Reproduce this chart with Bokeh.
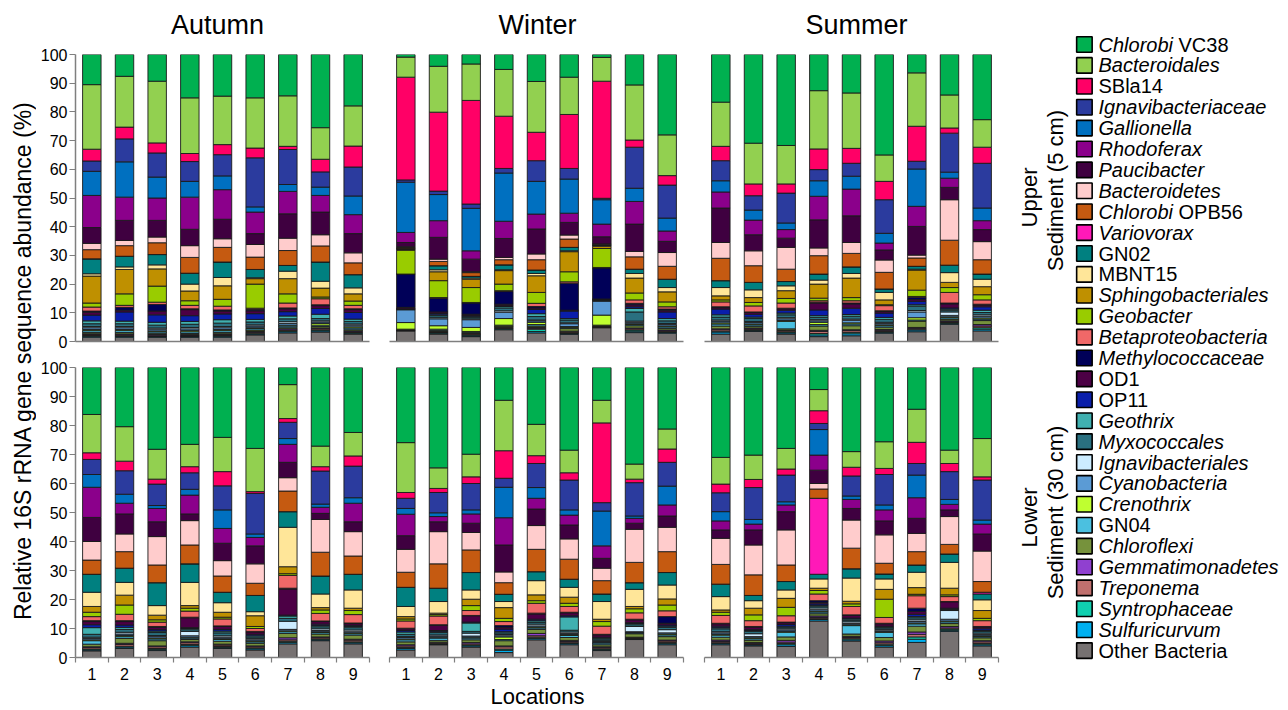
import math
from bokeh.plotting import figure
from bokeh.layouts import row, column
from bokeh.models import ColumnDataSource, Range1d, FixedTicker, Label
from bokeh.core.properties import value
from bokeh.embed import file_html
from bokeh.resources import INLINE

FONT = "Liberation Sans"

LOCATIONS = [1, 2, 3, 4, 5, 6, 7, 8, 9]

# taxa, listed top of stack -> bottom of stack (same order as the legend)
TAXA = ["Chlorobi VC38", "Bacteroidales", "SBla14", "Ignavibacteriaceae", "Gallionella",
        "Rhodoferax", "Paucibacter", "Bacteroidetes", "Chlorobi OPB56", "Variovorax",
        "GN02", "MBNT15", "Sphingobacteriales", "Geobacter", "Betaproteobacteria",
        "Methylococcaceae", "OD1", "OP11", "Geothrix", "Myxococcales",
        "Ignavibacteriales", "Cyanobacteria", "Crenothrix", "GN04", "Chloroflexi",
        "Gemmatimonadetes", "Treponema", "Syntrophaceae", "Sulfuricurvum", "Other Bacteria"]

COLORS = ["#00B050", "#92D050", "#FF0066", "#2B3B9E", "#0070C0",
          "#8B008B", "#3F0040", "#FFCCCC", "#C55A11", "#FF19B8",
          "#008080", "#FFE699", "#BF9000", "#99CC00", "#F06868",
          "#000058", "#4C0045", "#0A1EAA", "#40B0B0", "#2A7080",
          "#CCECFF", "#5B9BD5", "#BFFF30", "#4BC0E0", "#76923C",
          "#9040D0", "#C0706E", "#10D0B0", "#00B0F0", "#767171"]

# legend text: first part (italic or plain) + plain suffix
LEGEND_MAIN = ["Chlorobi", "Bacteroidales", "SBla14", "Ignavibacteriaceae", "Gallionella",
               "Rhodoferax", "Paucibacter", "Bacteroidetes", "Chlorobi", "Variovorax",
               "GN02", "MBNT15", "Sphingobacteriales", "Geobacter", "Betaproteobacteria",
               "Methylococcaceae", "OD1", "OP11", "Geothrix", "Myxococcales",
               "Ignavibacteriales", "Cyanobacteria", "Crenothrix", "GN04", "Chloroflexi",
               "Gemmatimonadetes", "Treponema", "Syntrophaceae", "Sulfuricurvum", "Other Bacteria"]
LEGEND_STYLE = ["italic", "italic", "normal", "italic", "italic",
                "italic", "italic", "italic", "italic", "italic",
                "normal", "normal", "italic", "italic", "italic",
                "italic", "normal", "normal", "italic", "italic",
                "italic", "italic", "italic", "normal", "italic",
                "italic", "italic", "italic", "italic", "normal"]
LEGEND_SUFFIX = ["VC38", "", "", "", "", "", "", "", "OPB56", "",
                 "", "", "", "", "", "", "", "", "", "",
                 "", "", "", "", "", "", "", "", "", ""]

SEASONS = ["Autumn", "Winter", "Summer"]
DEPTHS = [("Upper", "Sediment (5 cm)"), ("Lower", "Sediment (30 cm)")]

AUTUMN_UPPER = {
    "Chlorobi VC38":      [10.5, 7.6, 9.3, 15.1, 14.5, 15.1, 14.4, 25.5, 17.9],
    "Bacteroidales":      [22.5, 17.7, 21.5, 19.4, 16.9, 17.5, 17.6, 11.0, 14.0],
    "SBla14":             [4.1, 4.1, 3.5, 2.8, 3.5, 3.4, 1.1, 4.4, 7.3],
    "Ignavibacteriaceae": [3.6, 8.0, 8.4, 6.9, 7.4, 17.1, 12.2, 5.3, 10.1],
    "Gallionella":        [8.4, 12.3, 7.3, 5.5, 4.8, 1.8, 2.4, 2.9, 6.5],
    "Rhodoferax":         [11.2, 8.1, 7.8, 11.2, 10.3, 7.5, 7.8, 5.8, 6.6],
    "Paucibacter":        [5.5, 7.0, 5.8, 5.7, 6.8, 3.8, 8.5, 7.9, 6.7],
    "Bacteroidetes":      [2.2, 1.8, 2.0, 4.1, 3.0, 4.4, 4.3, 3.9, 3.5],
    "Chlorobi OPB56":     [3.2, 3.7, 4.1, 5.5, 5.1, 4.3, 5.2, 5.6, 4.1],
    "Variovorax":         [0, 0, 0, 0, 0, 0, 0, 0, 0],
    "GN02":               [5.2, 3.7, 3.6, 3.8, 5.4, 2.9, 2.0, 6.7, 4.6],
    "MBNT15":             [0.8, 0.9, 1.4, 2.4, 2.9, 0.3, 2.6, 2.4, 2.1],
    "Sphingobacteriales": [9.4, 8.5, 6.0, 3.4, 4.7, 1.9, 5.3, 3.1, 2.5],
    "Geobacter":          [1.4, 4.0, 5.6, 1.6, 2.4, 8.4, 3.2, 0.6, 1.5],
    "Betaproteobacteria": [1.4, 0.7, 0.8, 1.2, 1.3, 0.4, 1.7, 2.1, 1.2],
    "Methylococcaceae":   [0.4, 1.0, 2.3, 0.3, 0.4, 0.5, 0.3, 0.3, 0.3],
    "OD1":                [1.0, 0.6, 1.3, 2.1, 1.0, 1.0, 1.0, 1.0, 1.0],
    "OP11":               [2.0, 3.2, 2.6, 2.0, 2.0, 2.0, 1.5, 2.0, 2.3],
    "Geothrix":           [1.0, 0.9, 1.0, 1.0, 1.2, 0.9, 1.0, 1.5, 0.8],
    "Myxococcales":       [1.0, 1.0, 1.0, 1.1, 1.2, 1.0, 1.0, 0.8, 0.9],
    "Ignavibacteriales":  [0.4, 0.4, 0.4, 0.5, 0.4, 0.4, 0.6, 0.4, 0.4],
    "Cyanobacteria":      [0.6, 0.6, 0.6, 0.6, 0.6, 0.6, 0.6, 0.5, 0.6],
    "Crenothrix":         [0.4, 0.4, 0.3, 0.4, 0.4, 0.3, 0.3, 0.6, 0.4],
    "GN04":               [0.6, 0.7, 0.5, 0.6, 0.6, 0.5, 0.6, 0.5, 0.6],
    "Chloroflexi":        [0.5, 0.5, 0.4, 0.4, 0.5, 0.5, 0.4, 0.5, 0.4],
    "Gemmatimonadetes":   [0.3, 0.3, 0.3, 0.3, 0.3, 0.3, 0.4, 0.3, 0.3],
    "Treponema":          [0.3, 0.3, 0.3, 0.2, 0.3, 0.3, 0.3, 0.4, 0.3],
    "Syntrophaceae":      [0.3, 0.2, 0.2, 0.2, 0.3, 0.3, 0.3, 0.3, 0.2],
    "Sulfuricurvum":      [0.3, 0.3, 0.2, 0.2, 0.3, 0.3, 0.4, 0.4, 0.3],
    "Other Bacteria":     [1.5, 1.5, 1.5, 1.5, 1.5, 2.3, 3.0, 3.3, 2.6],
}

WINTER_UPPER = {
    "Chlorobi VC38":      [0.9, 4.1, 3.3, 5.2, 9.4, 7.9, 1.0, 10.6, 28.0],
    "Bacteroidales":      [7.0, 16.0, 12.7, 16.3, 17.7, 13.0, 8.3, 19.2, 14.2],
    "SBla14":             [35.8, 27.5, 36.1, 18.2, 9.9, 18.8, 40.8, 2.5, 3.3],
    "Ignavibacteriaceae": [0.8, 1.2, 1.5, 1.6, 7.2, 3.7, 0.5, 14.3, 11.5],
    "Gallionella":        [17.5, 9.1, 14.8, 16.8, 11.4, 11.9, 8.5, 4.6, 4.5],
    "Rhodoferax":         [3.5, 5.8, 2.9, 6.0, 5.2, 3.2, 4.4, 7.9, 3.6],
    "Paucibacter":        [1.5, 7.6, 4.4, 6.6, 8.7, 4.4, 2.5, 9.5, 3.9],
    "Bacteroidetes":      [0.2, 0.8, 0.3, 0.8, 2.0, 1.4, 0.1, 1.9, 4.8],
    "Chlorobi OPB56":     [0.3, 1.5, 1.3, 1.8, 3.6, 2.9, 0.3, 4.3, 4.5],
    "Variovorax":         [0, 0, 0, 0, 0, 0, 0, 0, 0],
    "GN02":               [0.3, 1.4, 0.6, 1.7, 1.2, 1.2, 0.2, 1.5, 2.9],
    "MBNT15":             [0.1, 0.7, 0.4, 0.3, 0.8, 0.3, 0.2, 1.6, 1.5],
    "Sphingobacteriales": [0.3, 3.1, 2.9, 4.7, 5.8, 7.0, 0.8, 5.2, 3.5],
    "Geobacter":          [8.3, 5.9, 5.2, 2.3, 3.8, 3.5, 6.6, 2.4, 1.7],
    "Betaproteobacteria": [0.0, 0.3, 0.2, 0.3, 1.1, 0.5, 0.2, 1.2, 0.8],
    "Methylococcaceae":   [11.6, 4.7, 3.9, 4.4, 0.5, 9.4, 10.8, 0.5, 0.4],
    "OD1":                [0.5, 0.5, 0.4, 0.5, 0.5, 0.3, 0.2, 0.7, 0.6],
    "OP11":               [0.0, 0.5, 0.3, 0.3, 1.5, 2.6, 0.1, 0.6, 2.3],
    "Geothrix":           [0.0, 0.3, 0.3, 0.5, 1.0, 0.5, 0.1, 1.2, 0.8],
    "Myxococcales":       [0.3, 0.7, 0.6, 1.0, 1.2, 1.0, 0.2, 3.2, 0.9],
    "Ignavibacteriales":  [0.0, 0.4, 0.3, 0.5, 0.3, 0.3, 0.1, 0.4, 0.4],
    "Cyanobacteria":      [4.5, 2.4, 2.7, 2.2, 0.5, 1.0, 4.9, 0.5, 0.5],
    "Crenothrix":         [2.3, 1.2, 1.4, 2.3, 0.8, 0.3, 3.5, 0.3, 0.3],
    "GN04":               [0.1, 0.4, 0.3, 0.3, 0.5, 0.4, 0.2, 0.4, 0.5],
    "Chloroflexi":        [0.2, 0.4, 0.4, 0.4, 0.5, 0.9, 0.3, 0.8, 0.6],
    "Gemmatimonadetes":   [0.1, 0.2, 0.2, 0.2, 0.3, 0.3, 0.1, 0.3, 0.3],
    "Treponema":          [0.0, 0.2, 0.3, 0.2, 0.3, 0.3, 0.1, 0.4, 0.3],
    "Syntrophaceae":      [0.1, 0.2, 0.3, 0.3, 0.8, 0.2, 0.1, 0.4, 0.2],
    "Sulfuricurvum":      [0.1, 0.3, 0.3, 0.2, 0.5, 0.3, 0.1, 0.5, 0.3],
    "Other Bacteria":     [3.7, 2.6, 1.7, 4.1, 3.0, 2.5, 4.8, 3.1, 2.9],
}

SUMMER_UPPER = {
    "Chlorobi VC38":      [16.6, 30.9, 31.7, 12.6, 13.4, 35.0, 6.4, 14.1, 22.7],
    "Bacteroidales":      [15.4, 14.2, 13.4, 20.3, 19.3, 9.2, 18.6, 11.5, 9.6],
    "SBla14":             [5.0, 4.1, 3.2, 7.2, 5.2, 6.4, 12.2, 1.8, 5.6],
    "Ignavibacteriaceae": [7.0, 5.0, 10.4, 3.9, 4.5, 11.7, 2.7, 13.6, 15.6],
    "Gallionella":        [3.9, 3.5, 2.3, 5.4, 4.5, 3.4, 13.0, 2.1, 4.4],
    "Rhodoferax":         [5.6, 5.1, 3.0, 8.2, 9.3, 2.4, 7.0, 3.2, 3.1],
    "Paucibacter":        [12.0, 5.6, 3.2, 9.8, 9.3, 3.5, 10.0, 4.3, 4.2],
    "Bacteroidetes":      [5.5, 5.2, 7.6, 2.7, 3.8, 4.3, 1.0, 14.1, 6.3],
    "Chlorobi OPB56":     [7.8, 5.8, 4.3, 6.4, 4.7, 5.8, 2.9, 8.7, 5.0],
    "Variovorax":         [0, 0, 0, 0, 0, 0, 0, 0, 0],
    "GN02":               [2.4, 2.6, 1.5, 2.1, 2.3, 1.2, 1.0, 2.6, 1.8],
    "MBNT15":             [2.9, 2.7, 1.7, 1.4, 1.6, 2.6, 0.3, 3.4, 2.6],
    "Sphingobacteriales": [1.4, 1.7, 2.7, 4.9, 6.8, 1.7, 7.0, 1.8, 2.8],
    "Geobacter":          [0.7, 1.2, 1.6, 0.9, 1.1, 0.3, 2.2, 1.7, 1.8],
    "Betaproteobacteria": [1.7, 2.1, 1.8, 0.5, 0.8, 1.8, 0.3, 3.7, 1.5],
    "Methylococcaceae":   [0.3, 0.2, 0.2, 0.3, 0.3, 0.2, 0.8, 0.3, 0.3],
    "OD1":                [0.5, 0.6, 0.5, 2.4, 1.5, 0.6, 0.6, 1.4, 0.6],
    "OP11":               [2.0, 1.0, 1.0, 2.0, 2.2, 1.5, 1.2, 0.4, 1.2],
    "Geothrix":           [0.8, 0.5, 0.6, 0.6, 0.6, 0.7, 0.5, 0.4, 0.8],
    "Myxococcales":       [1.0, 1.0, 1.0, 0.8, 1.0, 1.0, 1.5, 0.6, 0.8],
    "Ignavibacteriales":  [0.4, 0.4, 0.4, 0.4, 0.4, 0.4, 0.5, 1.2, 0.5],
    "Cyanobacteria":      [0.6, 0.5, 0.6, 0.5, 0.9, 0.5, 2.0, 0.5, 0.6],
    "Crenothrix":         [0.4, 0.3, 0.3, 0.8, 0.4, 0.3, 0.8, 0.3, 0.4],
    "GN04":               [0.7, 0.5, 2.6, 0.5, 0.6, 0.5, 0.4, 0.5, 0.5],
    "Chloroflexi":        [1.0, 0.6, 0.5, 1.5, 1.4, 0.8, 2.2, 0.6, 1.4],
    "Gemmatimonadetes":   [0.3, 0.3, 0.2, 0.4, 0.3, 0.3, 0.3, 0.3, 0.5],
    "Treponema":          [0.5, 0.3, 0.4, 0.7, 0.6, 0.4, 0.3, 0.3, 0.6],
    "Syntrophaceae":      [0.3, 0.3, 0.3, 0.5, 0.5, 0.3, 0.3, 0.3, 0.5],
    "Sulfuricurvum":      [0.7, 0.3, 0.4, 0.6, 0.7, 0.3, 0.6, 0.3, 0.6],
    "Other Bacteria":     [2.6, 3.5, 2.6, 1.7, 2.0, 2.9, 3.4, 6.0, 3.7],
}

AUTUMN_LOWER = {
    "Chlorobi VC38":      [16.2, 20.4, 28.2, 26.5, 24.1, 27.9, 5.9, 27.1, 22.4],
    "Bacteroidales":      [13.2, 11.9, 10.3, 7.7, 11.8, 14.9, 11.7, 7.1, 8.1],
    "SBla14":             [2.3, 3.3, 1.7, 2.1, 4.9, 0.6, 1.3, 1.5, 3.5],
    "Ignavibacteriaceae": [5.2, 8.1, 7.4, 5.7, 8.3, 14.0, 5.6, 11.4, 10.9],
    "Gallionella":        [4.4, 3.1, 1.0, 2.0, 6.4, 1.2, 2.0, 1.1, 1.9],
    "Rhodoferax":         [10.4, 3.7, 4.6, 6.5, 5.1, 2.9, 6.2, 2.1, 6.4],
    "Paucibacter":        [8.3, 6.9, 5.1, 2.3, 6.0, 6.2, 5.3, 2.1, 3.4],
    "Bacteroidetes":      [6.4, 6.1, 9.8, 8.4, 5.3, 6.7, 4.6, 11.3, 8.4],
    "Chlorobi OPB56":     [4.9, 5.7, 6.1, 6.5, 5.6, 4.2, 7.1, 8.2, 6.3],
    "Variovorax":         [0, 0, 0, 0, 0, 0, 0, 0, 0],
    "GN02":               [6.2, 4.9, 7.9, 6.4, 3.6, 5.6, 5.4, 6.2, 5.4],
    "MBNT15":             [4.9, 4.4, 3.3, 8.0, 3.3, 1.4, 13.6, 4.7, 6.3],
    "Sphingobacteriales": [2.0, 3.4, 1.6, 0.9, 1.7, 3.7, 2.4, 0.8, 0.8],
    "Geobacter":          [1.5, 3.2, 0.8, 1.0, 0.6, 0.7, 0.6, 1.2, 1.4],
    "Betaproteobacteria": [1.4, 2.2, 1.5, 2.1, 2.4, 1.0, 4.4, 2.6, 2.9],
    "Methylococcaceae":   [0.3, 0.3, 0.3, 0.2, 0.2, 0.2, 0.3, 0.2, 0.2],
    "OD1":                [1.1, 1.2, 0.8, 3.4, 1.0, 0.8, 9.0, 0.9, 0.6],
    "OP11":               [1.0, 0.8, 0.5, 0.3, 0.6, 0.5, 0.3, 0.5, 0.4],
    "Geothrix":           [2.3, 0.7, 0.5, 0.4, 0.6, 0.4, 0.8, 0.4, 0.4],
    "Myxococcales":       [1.0, 1.0, 1.0, 0.6, 1.0, 0.6, 1.0, 0.7, 0.8],
    "Ignavibacteriales":  [0.4, 0.6, 0.4, 1.5, 0.5, 0.4, 2.8, 0.6, 0.6],
    "Cyanobacteria":      [0.5, 0.5, 0.5, 0.5, 0.5, 0.4, 0.5, 0.4, 0.4],
    "Crenothrix":         [0.3, 0.4, 0.3, 0.3, 0.3, 0.3, 0.3, 0.3, 0.3],
    "GN04":               [1.2, 0.6, 0.6, 0.5, 0.6, 0.5, 0.6, 0.5, 0.5],
    "Chloroflexi":        [0.9, 1.7, 1.8, 0.8, 1.0, 0.9, 1.5, 1.0, 1.4],
    "Gemmatimonadetes":   [0.3, 0.4, 0.3, 0.3, 0.3, 0.3, 0.7, 0.3, 0.3],
    "Treponema":          [0.5, 0.6, 0.6, 0.6, 0.5, 0.4, 0.5, 0.4, 0.6],
    "Syntrophaceae":      [0.3, 0.3, 0.3, 0.4, 0.3, 0.3, 0.4, 0.3, 0.3],
    "Sulfuricurvum":      [0.3, 0.5, 0.4, 0.5, 0.4, 0.4, 0.5, 0.3, 0.4],
    "Other Bacteria":     [2.3, 3.1, 2.4, 3.6, 3.1, 2.6, 4.7, 5.8, 4.7],
}

WINTER_LOWER = {
    "Chlorobi VC38":      [25.9, 34.6, 29.9, 11.3, 19.6, 28.5, 11.3, 33.3, 21.2],
    "Bacteroidales":      [17.2, 7.1, 7.8, 17.4, 10.8, 7.8, 7.8, 5.2, 6.9],
    "SBla14":             [2.0, 1.4, 2.3, 9.5, 2.7, 2.5, 27.5, 1.2, 4.6],
    "Ignavibacteriaceae": [3.5, 7.0, 9.1, 3.1, 8.3, 10.3, 2.9, 11.5, 8.2],
    "Gallionella":        [2.0, 1.3, 1.4, 10.5, 3.7, 1.8, 12.0, 0.8, 6.5],
    "Rhodoferax":         [7.4, 1.8, 3.2, 9.4, 3.7, 3.4, 4.3, 1.7, 3.8],
    "Paucibacter":        [4.7, 3.4, 3.2, 9.3, 5.7, 4.8, 3.4, 2.1, 3.9],
    "Bacteroidetes":      [7.9, 11.1, 6.0, 3.7, 8.2, 7.0, 4.3, 11.4, 8.4],
    "Chlorobi OPB56":     [5.2, 8.4, 7.8, 4.0, 7.7, 6.9, 4.6, 7.0, 7.2],
    "Variovorax":         [0, 0, 0, 0, 0, 0, 0, 0, 0],
    "GN02":               [6.6, 4.6, 6.0, 2.5, 3.1, 2.8, 2.6, 2.3, 4.3],
    "MBNT15":             [3.5, 4.0, 3.2, 2.1, 4.9, 3.4, 6.1, 5.9, 4.8],
    "Sphingobacteriales": [0.8, 0.5, 2.2, 3.7, 2.0, 2.1, 0.8, 0.8, 2.1],
    "Geobacter":          [0.7, 0.5, 1.7, 1.1, 0.9, 1.1, 1.6, 1.4, 2.0],
    "Betaproteobacteria": [2.5, 3.0, 1.7, 1.4, 3.4, 2.0, 2.8, 2.2, 2.0],
    "Methylococcaceae":   [0.2, 0.2, 0.1, 0.6, 0.3, 0.2, 0.2, 0.2, 2.3],
    "OD1":                [0.6, 1.8, 2.2, 0.6, 1.8, 1.0, 0.8, 1.0, 0.6],
    "OP11":               [0.5, 0.3, 0.3, 0.9, 0.5, 0.4, 0.3, 0.3, 0.4],
    "Geothrix":           [0.8, 0.4, 2.9, 0.4, 0.5, 4.6, 0.3, 0.4, 0.4],
    "Myxococcales":       [0.8, 0.8, 0.6, 0.6, 0.7, 0.6, 0.6, 0.6, 0.8],
    "Ignavibacteriales":  [0.3, 0.4, 1.0, 0.4, 0.6, 0.5, 0.3, 1.8, 1.1],
    "Cyanobacteria":      [0.5, 0.4, 0.4, 0.4, 0.4, 0.4, 0.3, 0.2, 0.4],
    "Crenothrix":         [0.3, 0.3, 0.3, 0.9, 0.3, 0.3, 0.2, 0.2, 0.3],
    "GN04":               [0.7, 0.8, 0.6, 0.4, 0.5, 0.7, 0.6, 0.3, 0.6],
    "Chloroflexi":        [1.0, 0.6, 0.9, 1.8, 1.4, 1.0, 0.7, 1.2, 1.2],
    "Gemmatimonadetes":   [0.4, 0.3, 0.5, 0.3, 0.8, 0.4, 0.3, 0.2, 0.3],
    "Treponema":          [0.5, 0.3, 0.4, 0.8, 0.5, 0.4, 0.4, 0.2, 0.5],
    "Syntrophaceae":      [0.4, 0.2, 0.3, 0.4, 0.4, 0.3, 0.3, 0.2, 0.4],
    "Sulfuricurvum":      [0.5, 0.1, 0.4, 0.8, 0.5, 0.4, 0.3, 0.2, 0.4],
    "Other Bacteria":     [2.6, 4.4, 3.6, 1.7, 6.1, 4.4, 2.4, 6.2, 4.4],
}

SUMMER_LOWER = {
    "Chlorobi VC38":      [31.0, 30.2, 27.9, 7.6, 29.0, 25.6, 14.4, 28.5, 24.5],
    "Bacteroidales":      [9.2, 8.4, 7.1, 7.3, 5.4, 9.2, 11.4, 4.6, 13.2],
    "SBla14":             [3.0, 2.8, 2.1, 4.4, 3.0, 2.1, 7.3, 2.8, 1.1],
    "Ignavibacteriaceae": [6.5, 11.0, 9.2, 2.1, 6.9, 10.5, 4.0, 9.6, 13.8],
    "Gallionella":        [3.2, 1.6, 1.1, 8.8, 1.2, 1.7, 7.8, 1.7, 1.4],
    "Rhodoferax":         [3.1, 2.0, 2.3, 5.2, 3.1, 3.8, 7.1, 1.9, 3.4],
    "Paucibacter":        [2.9, 5.2, 6.3, 4.6, 4.0, 4.8, 5.2, 2.3, 5.9],
    "Bacteroidetes":      [9.0, 10.3, 12.1, 1.9, 9.7, 9.8, 6.3, 9.6, 10.5],
    "Chlorobi OPB56":     [6.8, 7.1, 5.7, 3.2, 7.1, 3.7, 4.6, 3.3, 3.7],
    "Variovorax":         [0, 0, 0, 26.2, 0, 0, 0, 0, 0.6],
    "GN02":               [4.3, 1.8, 2.9, 1.6, 3.2, 1.7, 2.5, 2.9, 2.0],
    "MBNT15":             [4.6, 2.6, 2.9, 3.2, 8.0, 3.6, 5.3, 8.9, 3.7],
    "Sphingobacteriales": [0.8, 2.3, 3.1, 0.8, 0.9, 3.4, 2.3, 2.3, 2.7],
    "Geobacter":          [1.1, 2.0, 2.9, 1.2, 0.9, 6.3, 0.5, 0.6, 0.8],
    "Betaproteobacteria": [2.7, 2.0, 2.2, 2.3, 2.9, 2.0, 4.3, 1.7, 2.0],
    "Methylococcaceae":   [0.2, 0.2, 0.2, 0.6, 0.2, 0.2, 1.1, 0.1, 0.2],
    "OD1":                [0.8, 0.9, 0.6, 0.5, 0.9, 0.8, 1.0, 2.2, 0.6],
    "OP11":               [0.5, 0.3, 0.6, 0.5, 0.3, 0.3, 0.8, 0.3, 0.6],
    "Geothrix":           [0.4, 0.3, 0.3, 0.3, 0.4, 0.3, 0.4, 0.2, 0.3],
    "Myxococcales":       [1.0, 0.8, 0.6, 0.6, 0.6, 0.6, 0.7, 0.3, 0.6],
    "Ignavibacteriales":  [0.4, 1.0, 0.4, 0.6, 0.6, 0.4, 0.6, 3.0, 0.5],
    "Cyanobacteria":      [0.5, 0.4, 0.5, 0.5, 0.4, 0.3, 0.5, 0.6, 0.4],
    "Crenothrix":         [0.3, 0.3, 0.3, 0.3, 0.3, 0.2, 0.3, 0.3, 0.3],
    "GN04":               [0.7, 0.5, 1.6, 0.6, 2.9, 1.8, 0.8, 0.6, 0.4],
    "Chloroflexi":        [1.0, 0.8, 1.2, 0.8, 0.8, 1.2, 2.0, 1.0, 1.0],
    "Gemmatimonadetes":   [0.5, 0.4, 0.6, 0.5, 0.4, 0.6, 0.8, 0.5, 0.4],
    "Treponema":          [0.4, 0.3, 0.5, 0.4, 0.4, 0.5, 0.9, 0.4, 0.6],
    "Syntrophaceae":      [0.3, 0.2, 0.4, 0.3, 0.4, 0.5, 0.8, 0.4, 0.4],
    "Sulfuricurvum":      [0.4, 0.3, 0.6, 0.5, 0.4, 0.5, 1.1, 0.4, 0.4],
    "Other Bacteria":     [4.4, 4.0, 3.8, 12.6, 5.7, 3.6, 5.2, 9.0, 4.0],
}

PANEL_DATA = [[AUTUMN_UPPER, WINTER_UPPER, SUMMER_UPPER],
              [AUTUMN_LOWER, WINTER_LOWER, SUMMER_LOWER]]

# ---------------- layout geometry (pixels) ----------------
FRAME_W = 294
FRAME_H = [287, 290]
COL_LEFT = [39, 10, 11]
COL_RIGHT = [10, 10, 10]
ROW_TOP = [8, 14]
ROW_BOTTOM = [12, 26]
LEFT_W = 36
TITLE_H = 46
LOC_H = 25
RIGHT_W = 280
CENTER_W = sum(COL_LEFT) + sum(COL_RIGHT) + 3 * FRAME_W
TOTAL_H = TITLE_H + sum(ROW_TOP) + sum(FRAME_H) + sum(ROW_BOTTOM) + LOC_H
AXIS_GREY = "#7F7F7F"


def blank_strip(w, h, flip=False):
    p = figure(frame_width=w, frame_height=h, x_range=Range1d(0, w),
               y_range=Range1d(h, 0) if flip else Range1d(0, h),
               output_backend="svg", toolbar_location=None,
               min_border_left=0, min_border_right=0, min_border_top=0, min_border_bottom=0)
    p.axis.visible = False
    p.grid.visible = False
    p.outline_line_color = None
    p.background_fill_color = "white"
    p.border_fill_color = "white"
    return p


def make_panel(r, c):
    data = PANEL_DATA[r][c]
    totals = [sum(data[t][i] for t in TAXA) for i in range(len(LOCATIONS))]
    src = {"x": LOCATIONS}
    for t in TAXA:
        src[t] = [v * 100.0 / tot for v, tot in zip(data[t], totals)]
    source = ColumnDataSource(src)

    p = figure(frame_width=FRAME_W, frame_height=FRAME_H[r],
               x_range=Range1d(0.5, 9.5), y_range=Range1d(0, 100),
               output_backend="svg", toolbar_location=None,
               min_border_left=COL_LEFT[c], min_border_right=COL_RIGHT[c],
               min_border_top=ROW_TOP[r], min_border_bottom=ROW_BOTTOM[r])
    p.grid.visible = False
    p.outline_line_color = None
    p.background_fill_color = "white"
    p.border_fill_color = "white"

    p.vbar_stack(TAXA[::-1], x="x", width=0.565, color=COLORS[::-1],
                 line_color="#1a1a1a", line_width=0.9, source=source)

    xa = p.xaxis[0]
    xa.ticker = FixedTicker(ticks=LOCATIONS, minor_ticks=[i + 0.5 for i in range(10)])
    xa.major_tick_out = 0
    xa.major_tick_in = 0
    xa.minor_tick_in = 0
    xa.minor_tick_out = 5 if r == 1 else 0
    xa.axis_line_color = AXIS_GREY
    xa.axis_line_width = 1.5
    xa.minor_tick_line_color = AXIS_GREY
    xa.minor_tick_line_width = 1.2
    if r == 1:
        xa.major_label_text_font_size = "16px"
        xa.major_label_text_font = FONT
        xa.major_label_text_color = "black"
        xa.major_label_standoff = 5
    else:
        xa.major_label_text_font_size = "1px"
        xa.major_label_text_alpha = 0
        xa.major_label_standoff = 0

    ya = p.yaxis[0]
    if c == 0:
        ya.ticker = FixedTicker(ticks=list(range(0, 101, 10)))
        ya.major_tick_out = 6
        ya.major_tick_in = 0
        ya.minor_tick_out = 0
        ya.minor_tick_in = 0
        ya.axis_line_color = AXIS_GREY
        ya.axis_line_width = 1.5
        ya.major_tick_line_color = AXIS_GREY
        ya.major_tick_line_width = 1.2
        ya.major_label_text_font_size = "16px"
        ya.major_label_text_font = FONT
        ya.major_label_text_color = "black"
        ya.major_label_standoff = 2
    else:
        ya.visible = False
    return p


panels = [[make_panel(r, c) for c in range(3)] for r in range(2)]

# season titles strip (pixel coordinates, y measured from top)
ts = blank_strip(CENTER_W, TITLE_H, flip=True)
for name, xc in zip(SEASONS, [181, 501, 820]):
    ts.add_layout(Label(x=xc, y=24.5, text=name, text_align="center", text_baseline="middle",
                        text_font_size="27px", text_font=FONT, text_color="black"))

# x-axis title strip
ls = blank_strip(CENTER_W, LOC_H, flip=True)
ls.add_layout(Label(x=501, y=13, text="Locations", text_align="center", text_baseline="middle",
                    text_font_size="22px", text_font=FONT, text_color="black"))

# left strip holding the shared y-axis title
lf = blank_strip(LEFT_W, TOTAL_H)
lf.add_layout(Label(x=22, y=TOTAL_H - 360, text="Relative 16S rRNA gene sequence abundance (%)",
                    angle=math.pi / 2, text_align="center", text_baseline="middle",
                    text_font_size="23px", text_font=FONT, text_color="black"))

# right strip: depth labels + legend
rg = blank_strip(RIGHT_W, TOTAL_H)
for (short, long_), (y_short, y_long) in zip(DEPTHS, [(197, 190), (517, 512)]):
    rg.add_layout(Label(x=21, y=TOTAL_H - y_short, text=short, angle=math.pi / 2,
                        text_align="center", text_baseline="middle",
                        text_font_size="22px", text_font=FONT, text_color="black"))
    rg.add_layout(Label(x=47, y=TOTAL_H - y_long, text=long_, angle=math.pi / 2,
                        text_align="center", text_baseline="middle",
                        text_font_size="22px", text_font=FONT, text_color="black"))

row_y = [TOTAL_H - (44 + i * 20.9) for i in range(len(TAXA))]
lsrc = ColumnDataSource(dict(y=row_y, color=COLORS, main=LEGEND_MAIN,
                             style=LEGEND_STYLE, suffix=LEGEND_SUFFIX))
rg.rect(x=75.9, y="y", width=15.5, height=15.5, fill_color="color",
        line_color="black", line_width=1.6, source=lsrc)
rg.text(x=90, y="y", text="main", text_font_style="style", text_font=value(FONT),
        text_font_size=value("20px"), text_baseline="middle", text_align="left",
        text_color="black", source=lsrc)
rg.text(x=90 + 80.0, y="y", text="suffix", text_font=value(FONT),
        text_font_size=value("20px"), text_baseline="middle", text_align="left",
        text_color="black", source=lsrc)

center = column(ts, row(*panels[0], spacing=0), row(*panels[1], spacing=0), ls, spacing=0)
layout = row(lf, center, rg, spacing=0)

open("out.html", "w").write(file_html(layout, INLINE, title="16S rRNA abundance"))
